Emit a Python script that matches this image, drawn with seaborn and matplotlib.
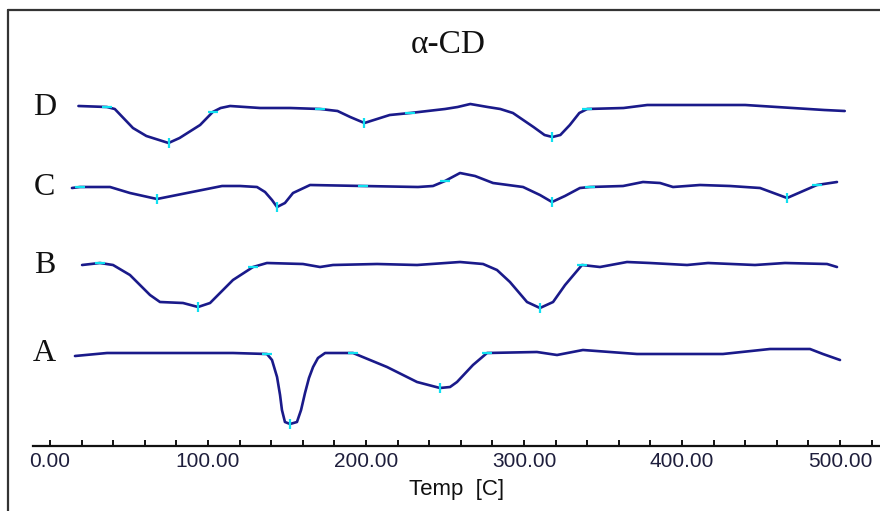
import numpy as np
import pandas as pd
import matplotlib
matplotlib.use("Agg")
import matplotlib.pyplot as plt
from matplotlib.lines import Line2D
from matplotlib.ticker import MultipleLocator, FixedLocator, FixedFormatter
import seaborn as sns

# ---------------- data (temperature in C, signal in arbitrary units) ----------------
temp_D = [18, 36, 41, 52.5, 61, 75, 82, 95, 103, 108, 114, 133, 152, 171, 182, 190, 199, 209,
          215, 228, 239, 250, 258, 266, 277, 285, 293, 306, 313, 318, 323, 329, 335, 340, 363,
          378, 440, 490, 503]
sig_D = [340, 339, 337, 318, 310, 303, 308, 321, 334, 338, 340, 338, 338, 337, 335, 329, 323, 328,
         331, 333, 335, 337, 339, 342, 339, 337, 333, 319, 311, 309, 311, 321, 333, 337, 338,
         341, 341, 336, 335]

temp_C = [13.9, 19, 38, 50.6, 67.7, 86.7, 108.9, 120.3, 131, 136.1, 140.5, 143.7, 148.7, 153.8,
          164.6, 198.1, 232.9, 242.4, 250, 259.5, 269, 280.4, 299.4, 310.1, 317.7, 325.9, 335.4,
          341.8, 362.7, 375.3, 386.1, 394.3, 411.4, 430.4, 449.4, 466.5, 485.4, 498.1]
sig_C = [258, 259, 259, 253, 247, 253, 260, 260, 259, 254, 246, 239, 243, 253,
         261, 260, 259, 260, 265, 273, 270, 263, 259, 251, 244, 250, 258,
         259, 260, 264, 263, 259, 261, 260, 258, 248, 261, 264]

temp_B = [20.3, 31.6, 39.9, 50.6, 63.3, 69.6, 84.2, 93.7, 101.3, 107.6, 115.8, 128.5, 137.3,
          160.1, 170.9, 179.1, 207, 232.3, 259.5, 274.1, 282.9, 291.1, 301.9, 310.1, 318.4,
          326, 336.7, 348.1, 365.2, 379.7, 403.2, 416.5, 446.2, 465.2, 491.8, 498.1]
sig_B = [181, 183, 181, 171, 151, 144, 143, 139, 143, 153, 166, 179, 183,
         182, 179, 181, 182, 181, 184, 182, 176, 164, 144, 138, 144,
         161, 181, 179, 184, 183, 181, 183, 181, 183, 182, 179]

temp_A = [15.8, 36.1, 115.8, 137.3, 140.5, 143.7, 145.6, 146.8, 148.7, 151.9, 156.3, 158.9,
          161.4, 163.9, 166.5, 169.6, 174.1, 191.8, 213.3, 232.3, 246.8, 253.2, 257.6, 267.7,
          276.6, 308.2, 320.9, 337.3, 371.5, 425.9, 455.7, 481, 489.2, 500]
sig_A = [90, 93, 93, 92, 86, 69, 51, 36, 24, 22, 24, 36,
         53, 68, 79, 88, 93, 93, 79, 64, 58, 59, 64, 81,
         93, 94, 91, 96, 92, 92, 97, 97, 92, 86]

curve_names = ["A", "B", "C", "D"]
curve_temps = [temp_A, temp_B, temp_C, temp_D]
curve_sigs = [sig_A, sig_B, sig_C, sig_D]
# indices of cyan peak markers on each curve
peak_idx = [[9, 20], [7, 23], [4, 11, 24, 35], [5, 16, 29]]
onset_idx = [[3, 17, 24], [1, 11, 26], [1, 15, 18, 27, 36], [1, 8, 13, 19, 33]]

tick_values = [0, 100, 200, 300, 400, 500]
tick_labels = ["0.00", "100.00", "200.00", "300.00", "400.00", "500.00"]
title_text = "\u03b1-CD"
xlabel_text = "Temp  [C]"

# ---------------- figure ----------------
sns.set_theme(style="white")
plt.rcParams["font.family"] = ["Liberation Sans", "DejaVu Sans"]

W, H = 880, 511
fig = plt.figure(figsize=(W / 100, H / 100), dpi=100)
ax_left, ax_right, ax_bottom, ax_top = 33, 880, 446, 10
ax = fig.add_axes([ax_left / W, (H - ax_bottom) / H,
                   (ax_right - ax_left) / W, (ax_bottom - ax_top) / H])
ax.set_facecolor("white")

line_color = "#1a1a8a"
cyan = "#10e0f0"

frames = []
for name, t, s in zip(curve_names, curve_temps, curve_sigs):
    frames.append(pd.DataFrame({"Temp": t, "Signal": s, "Sample": name}))
df = pd.concat(frames, ignore_index=True)

sns.lineplot(data=df, x="Temp", y="Signal", units="Sample", estimator=None, sort=False,
             color=line_color, linewidth=1.9, ax=ax, legend=False)

for t, s, pk, on in zip(curve_temps, curve_sigs, peak_idx, onset_idx):
    ax.plot(np.array(t)[pk], np.array(s)[pk], linestyle="none", marker="|",
            markersize=7, markeredgewidth=1.6, color=cyan, zorder=3)
    ax.plot(np.array(t)[on], np.array(s)[on], linestyle="none", marker="_",
            markersize=7, markeredgewidth=1.6, color=cyan, zorder=3)

# curve letters
for name, t, s in zip(curve_names, curve_temps, curve_sigs):
    ax.text(-3.5, np.median(s[:3]), name, ha="center", va="center",
            fontsize=23, family=["Liberation Serif", "DejaVu Serif"], color="#111111")

ax.set_xlim((ax_left - 50) / 1.58, (ax_right - 50) / 1.58)
ax.set_ylim(0, 436)

for sp in ["top", "right", "left"]:
    ax.spines[sp].set_visible(False)
ax.spines["bottom"].set_color("#111111")
ax.spines["bottom"].set_linewidth(1.6)

ax.xaxis.set_major_locator(FixedLocator(tick_values))
ax.xaxis.set_major_formatter(FixedFormatter(tick_labels))
ax.xaxis.set_minor_locator(MultipleLocator(20))
ax.tick_params(axis="x", which="both", direction="in", length=4, width=1.4,
               color="#111111", bottom=True, labelsize=15, labelcolor="#1e1e3c", pad=4)
ax.set_yticks([])
ax.set_xlabel(xlabel_text, fontsize=16, color="#111111", labelpad=6)
ax.set_ylabel("")

fig.text(448 / W, 1 - 45 / H, title_text, ha="center", va="center", fontsize=24,
         family=["Liberation Serif", "DejaVu Serif"], color="#111111")

# outer frame (left and top edges)
fig.add_artist(Line2D([8 / W, 8 / W], [0, 1 - 10 / H], transform=fig.transFigure,
                      color="#333333", linewidth=1.6))
fig.add_artist(Line2D([8 / W, 1], [1 - 10 / H, 1 - 10 / H], transform=fig.transFigure,
                      color="#333333", linewidth=1.6))

fig.savefig("out.png", dpi=100, facecolor="white")
